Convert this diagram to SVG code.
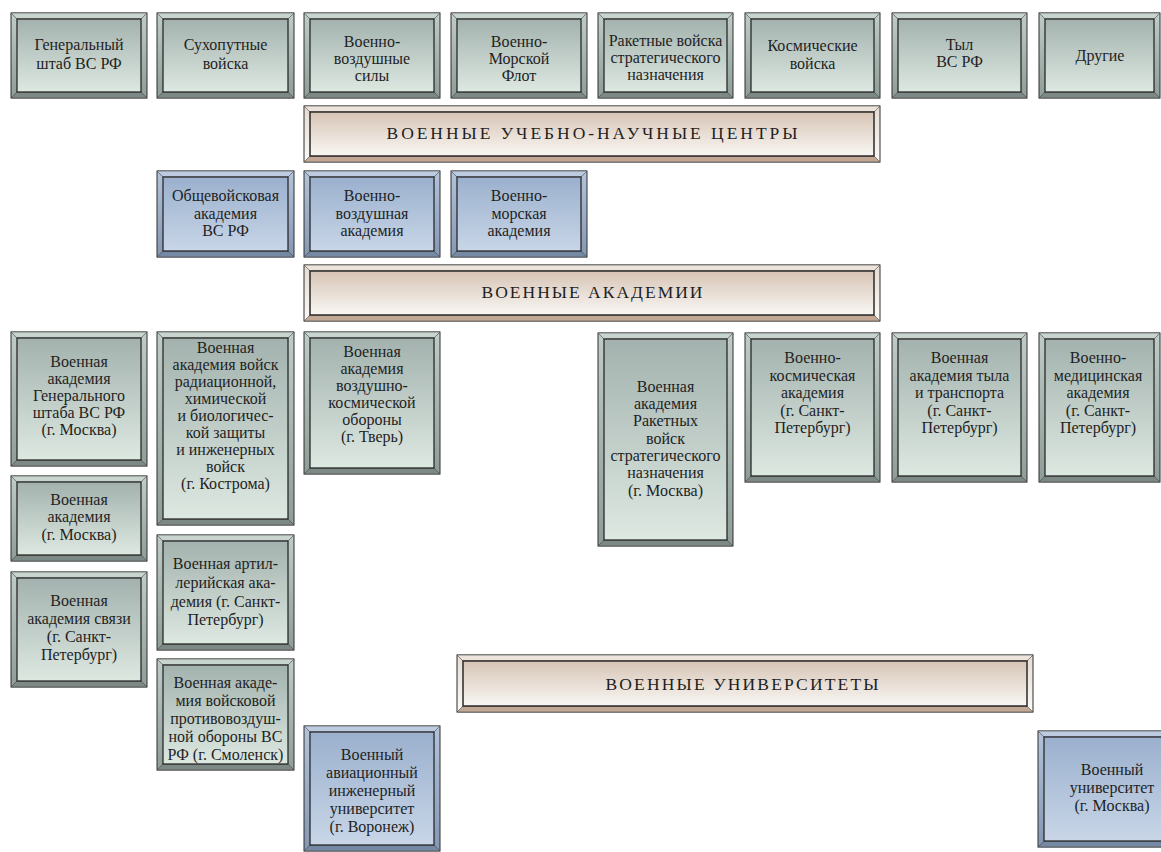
<svg xmlns="http://www.w3.org/2000/svg" width="1161" height="852" viewBox="0 0 1161 852">
<defs>
<linearGradient id="gIn" x1="0" y1="0" x2="0" y2="1"><stop offset="0" stop-color="#a3b2ae"/><stop offset="1" stop-color="#dde8e1"/></linearGradient>
<linearGradient id="gSide" x1="0" y1="0" x2="0" y2="1"><stop offset="0" stop-color="#bfccc7"/><stop offset="1" stop-color="#8e9d98"/></linearGradient>
<linearGradient id="bIn" x1="0" y1="0" x2="0" y2="1"><stop offset="0" stop-color="#9bb0ce"/><stop offset="1" stop-color="#c8d6e7"/></linearGradient>
<linearGradient id="bSide" x1="0" y1="0" x2="0" y2="1"><stop offset="0" stop-color="#b3c3da"/><stop offset="1" stop-color="#8497b3"/></linearGradient>
<linearGradient id="rIn" x1="0" y1="0" x2="0" y2="1"><stop offset="0" stop-color="#d7c4b5"/><stop offset="1" stop-color="#f9f7f4"/></linearGradient>
<linearGradient id="rSide" x1="0" y1="0" x2="0" y2="1"><stop offset="0" stop-color="#e6dbd2"/><stop offset="1" stop-color="#fbfaf8"/></linearGradient>
</defs>
<style>
.o{stroke:#2e2e2e;stroke-width:1}
.p{stroke:#444;stroke-width:0.6}
.i{stroke:#2a2a2a;stroke-width:1.3}
.g .o{fill:url(#gSide)} .g .t{fill:#c8d4ce} .g .b{fill:#7c8985} .g .i{fill:url(#gIn)}
.u .o{fill:url(#bSide)} .u .t{fill:#bccbdf} .u .b{fill:#7589a4} .u .i{fill:url(#bIn)}
.r .o{fill:url(#rSide)} .r .t{fill:#ece3da} .r .b{fill:#c2a894} .r .i{fill:url(#rIn);stroke-width:1.5}
text{font-family:"Liberation Serif","DejaVu Serif",serif;fill:#1f1f1f;text-anchor:middle}
.n{font-size:16px}
.h{font-size:17.5px}
</style>

<g id="connectors"></g>

<!-- top row -->
<g id="n-genshtab" class="g"><rect class="o" x="11" y="13" width="136" height="85"/><polygon class="p t" points="11,13 147,13 141,19 17,19"/><polygon class="p b" points="11,98 147,98 141,92 17,92"/><rect class="i" x="17" y="19" width="124" height="73"/>
<text class="n" x="79" y="50">Генеральный</text><text class="n" x="79" y="69">штаб ВС РФ</text></g>

<g id="n-sv" class="g"><rect class="o" x="157" y="13" width="137" height="85"/><polygon class="p t" points="157,13 294,13 288,19 163,19"/><polygon class="p b" points="157,98 294,98 288,92 163,92"/><rect class="i" x="163" y="19" width="125" height="73"/>
<text class="n" x="225.5" y="50">Сухопутные</text><text class="n" x="225.5" y="69">войска</text></g>

<g id="n-vvs" class="g"><rect class="o" x="304" y="13" width="136" height="85"/><polygon class="p t" points="304,13 440,13 434,19 310,19"/><polygon class="p b" points="304,98 440,98 434,92 310,92"/><rect class="i" x="310" y="19" width="124" height="73"/>
<text class="n" x="372" y="47">Военно-</text><text class="n" x="372" y="64">воздушные</text><text class="n" x="372" y="81">силы</text></g>

<g id="n-vmf" class="g"><rect class="o" x="451" y="13" width="136" height="85"/><polygon class="p t" points="451,13 587,13 581,19 457,19"/><polygon class="p b" points="451,98 587,98 581,92 457,92"/><rect class="i" x="457" y="19" width="124" height="73"/>
<text class="n" x="519" y="47">Военно-</text><text class="n" x="519" y="64">Морской</text><text class="n" x="519" y="81">Флот</text></g>

<g id="n-rvsn" class="g"><rect class="o" x="598" y="13" width="135" height="85"/><polygon class="p t" points="598,13 733,13 727,19 604,19"/><polygon class="p b" points="598,98 733,98 727,92 604,92"/><rect class="i" x="604" y="19" width="123" height="73"/>
<text class="n" x="665.5" y="46">Ракетные войска</text><text class="n" x="665.5" y="63">стратегического</text><text class="n" x="665.5" y="80">назначения</text></g>

<g id="n-kv" class="g"><rect class="o" x="745" y="13" width="135" height="85"/><polygon class="p t" points="745,13 880,13 874,19 751,19"/><polygon class="p b" points="745,98 880,98 874,92 751,92"/><rect class="i" x="751" y="19" width="123" height="73"/>
<text class="n" x="812.5" y="51">Космические</text><text class="n" x="812.5" y="69">войска</text></g>

<g id="n-tyl" class="g"><rect class="o" x="892" y="13" width="135" height="85"/><polygon class="p t" points="892,13 1027,13 1021,19 898,19"/><polygon class="p b" points="892,98 1027,98 1021,92 898,92"/><rect class="i" x="898" y="19" width="123" height="73"/>
<text class="n" x="959.5" y="50">Тыл</text><text class="n" x="959.5" y="67">ВС РФ</text></g>

<g id="n-other" class="g"><rect class="o" x="1039" y="13" width="121" height="85"/><polygon class="p t" points="1039,13 1160,13 1154,19 1045,19"/><polygon class="p b" points="1039,98 1160,98 1154,92 1045,92"/><rect class="i" x="1045" y="19" width="109" height="73"/>
<text class="n" x="1100" y="61">Другие</text></g>

<!-- band 1 -->
<g id="band-centers" class="r"><rect class="o" x="304" y="106" width="576" height="56"/><polygon class="p t" points="304,106 880,106 874,112 310,112"/><polygon class="p b" points="304,162 880,162 874,156 310,156"/><rect class="i" x="310" y="112" width="564" height="44"/>
<text class="h" x="592" y="139" textLength="411">ВОЕННЫЕ УЧЕБНО-НАУЧНЫЕ ЦЕНТРЫ</text></g>

<!-- blue row -->
<g id="n-oa" class="u"><rect class="o" x="157" y="171" width="137" height="86"/><polygon class="p t" points="157,171 294,171 288,177 163,177"/><polygon class="p b" points="157,257 294,257 288,251 163,251"/><rect class="i" x="163" y="177" width="125" height="74"/>
<text class="n" x="225.5" y="201">Общевойсковая</text><text class="n" x="225.5" y="218.5">академия</text><text class="n" x="225.5" y="236">ВС РФ</text></g>

<g id="n-vva" class="u"><rect class="o" x="304" y="171" width="136" height="86"/><polygon class="p t" points="304,171 440,171 434,177 310,177"/><polygon class="p b" points="304,257 440,257 434,251 310,251"/><rect class="i" x="310" y="177" width="124" height="74"/>
<text class="n" x="372" y="201">Военно-</text><text class="n" x="372" y="218.5">воздушная</text><text class="n" x="372" y="236">академия</text></g>

<g id="n-vma" class="u"><rect class="o" x="451" y="171" width="136" height="86"/><polygon class="p t" points="451,171 587,171 581,177 457,177"/><polygon class="p b" points="451,257 587,257 581,251 457,251"/><rect class="i" x="457" y="177" width="124" height="74"/>
<text class="n" x="519" y="201">Военно-</text><text class="n" x="519" y="218.5">морская</text><text class="n" x="519" y="236">академия</text></g>

<!-- band 2 -->
<g id="band-academies" class="r"><rect class="o" x="304" y="265" width="576" height="56"/><polygon class="p t" points="304,265 880,265 874,271 310,271"/><polygon class="p b" points="304,321 880,321 874,315 310,315"/><rect class="i" x="310" y="271" width="564" height="44"/>
<text class="h" x="592" y="298" textLength="221">ВОЕННЫЕ АКАДЕМИИ</text></g>

<!-- academies -->
<g id="a-gsh" class="g"><rect class="o" x="11" y="332" width="136" height="134"/><polygon class="p t" points="11,332 147,332 141,338 17,338"/><polygon class="p b" points="11,466 147,466 141,460 17,460"/><rect class="i" x="17" y="338" width="124" height="122"/>
<text class="n" x="79" y="367">Военная</text><text class="n" x="79" y="384">академия</text><text class="n" x="79" y="401">Генерального</text><text class="n" x="79" y="418">штаба ВС РФ</text><text class="n" x="79" y="435">(г. Москва)</text></g>

<g id="a-rhbz" class="g"><rect class="o" x="157" y="332" width="137" height="193"/><polygon class="p t" points="157,332 294,332 288,338 163,338"/><polygon class="p b" points="157,525 294,525 288,519 163,519"/><rect class="i" x="163" y="338" width="125" height="181"/>
<text class="n" x="225.5" y="352.5">Военная</text><text class="n" x="225.5" y="369.5">академия войск</text><text class="n" x="225.5" y="386.5">радиационной,</text><text class="n" x="225.5" y="403.5">химической</text><text class="n" x="225.5" y="420.5">и биологичес-</text><text class="n" x="225.5" y="437.5">кой защиты</text><text class="n" x="225.5" y="454.5">и инженерных</text><text class="n" x="225.5" y="471.5">войск</text><text class="n" x="225.5" y="488.5">(г. Кострома)</text></g>

<g id="a-vko" class="g"><rect class="o" x="304" y="332" width="136" height="142"/><polygon class="p t" points="304,332 440,332 434,338 310,338"/><polygon class="p b" points="304,474 440,474 434,468 310,468"/><rect class="i" x="310" y="338" width="124" height="130"/>
<text class="n" x="372" y="357">Военная</text><text class="n" x="372" y="374">академия</text><text class="n" x="372" y="391">воздушно-</text><text class="n" x="372" y="408">космической</text><text class="n" x="372" y="425">обороны</text><text class="n" x="372" y="442">(г. Тверь)</text></g>

<g id="a-rvsn" class="g"><rect class="o" x="598" y="333" width="135" height="213"/><polygon class="p t" points="598,333 733,333 727,339 604,339"/><polygon class="p b" points="598,546 733,546 727,540 604,540"/><rect class="i" x="604" y="339" width="123" height="201"/>
<text class="n" x="665.5" y="392">Военная</text><text class="n" x="665.5" y="409">академия</text><text class="n" x="665.5" y="426">Ракетных</text><text class="n" x="665.5" y="443.5">войск</text><text class="n" x="665.5" y="461">стратегического</text><text class="n" x="665.5" y="478">назначения</text><text class="n" x="665.5" y="495.5">(г. Москва)</text></g>

<g id="a-vka" class="g"><rect class="o" x="745" y="333" width="135" height="149"/><polygon class="p t" points="745,333 880,333 874,339 751,339"/><polygon class="p b" points="745,482 880,482 874,476 751,476"/><rect class="i" x="751" y="339" width="123" height="137"/>
<text class="n" x="812.5" y="363">Военно-</text><text class="n" x="812.5" y="380.5">космическая</text><text class="n" x="812.5" y="398">академия</text><text class="n" x="812.5" y="415.5">(г. Санкт-</text><text class="n" x="812.5" y="433">Петербург)</text></g>

<g id="a-tyl" class="g"><rect class="o" x="892" y="333" width="135" height="149"/><polygon class="p t" points="892,333 1027,333 1021,339 898,339"/><polygon class="p b" points="892,482 1027,482 1021,476 898,476"/><rect class="i" x="898" y="339" width="123" height="137"/>
<text class="n" x="959.5" y="363">Военная</text><text class="n" x="959.5" y="380.5">академия тыла</text><text class="n" x="959.5" y="398">и транспорта</text><text class="n" x="959.5" y="415.5">(г. Санкт-</text><text class="n" x="959.5" y="433">Петербург)</text></g>

<g id="a-med" class="g"><rect class="o" x="1039" y="333" width="121" height="149"/><polygon class="p t" points="1039,333 1160,333 1154,339 1045,339"/><polygon class="p b" points="1039,482 1160,482 1154,476 1045,476"/><rect class="i" x="1045" y="339" width="109" height="137"/>
<text class="n" x="1098" y="363">Военно-</text><text class="n" x="1098" y="380.5">медицинская</text><text class="n" x="1098" y="398">академия</text><text class="n" x="1098" y="415.5">(г. Санкт-</text><text class="n" x="1098" y="433">Петербург)</text></g>

<g id="a-msk" class="g"><rect class="o" x="11" y="476" width="136" height="85"/><polygon class="p t" points="11,476 147,476 141,482 17,482"/><polygon class="p b" points="11,561 147,561 141,555 17,555"/><rect class="i" x="17" y="482" width="124" height="73"/>
<text class="n" x="79" y="504.5">Военная</text><text class="n" x="79" y="522">академия</text><text class="n" x="79" y="539.5">(г. Москва)</text></g>

<g id="a-svyaz" class="g"><rect class="o" x="11" y="572" width="136" height="115"/><polygon class="p t" points="11,572 147,572 141,578 17,578"/><polygon class="p b" points="11,687 147,687 141,681 17,681"/><rect class="i" x="17" y="578" width="124" height="103"/>
<text class="n" x="79" y="606">Военная</text><text class="n" x="79" y="624">академия связи</text><text class="n" x="79" y="642">(г. Санкт-</text><text class="n" x="79" y="660">Петербург)</text></g>

<g id="a-art" class="g"><rect class="o" x="157" y="535" width="137" height="115"/><polygon class="p t" points="157,535 294,535 288,541 163,541"/><polygon class="p b" points="157,650 294,650 288,644 163,644"/><rect class="i" x="163" y="541" width="125" height="103"/>
<text class="n" x="225.5" y="569">Военная артил-</text><text class="n" x="225.5" y="588">лерийская ака-</text><text class="n" x="225.5" y="607">демия (г. Санкт-</text><text class="n" x="225.5" y="625">Петербург)</text></g>

<g id="a-pvo" class="g"><rect class="o" x="157" y="659" width="137" height="111"/><polygon class="p t" points="157,659 294,659 288,665 163,665"/><polygon class="p b" points="157,770 294,770 288,764 163,764"/><rect class="i" x="163" y="665" width="125" height="99"/>
<text class="n" x="225.5" y="688">Военная акаде-</text><text class="n" x="225.5" y="706">мия войсковой</text><text class="n" x="225.5" y="724">противовоздуш-</text><text class="n" x="225.5" y="742">ной обороны ВС</text><text class="n" x="225.5" y="760">РФ (г. Смоленск)</text></g>

<!-- band 3 -->
<g id="band-universities" class="r"><rect class="o" x="457" y="655" width="576" height="57"/><polygon class="p t" points="457,655 1033,655 1027,661 463,661"/><polygon class="p b" points="457,712 1033,712 1027,706 463,706"/><rect class="i" x="463" y="661" width="564" height="45"/>
<text class="h" x="742" y="690" textLength="273">ВОЕННЫЕ УНИВЕРСИТЕТЫ</text></g>

<g id="u-vrn" class="u"><rect class="o" x="304" y="726" width="136" height="125"/><polygon class="p t" points="304,726 440,726 434,732 310,732"/><polygon class="p b" points="304,851 440,851 434,845 310,845"/><rect class="i" x="310" y="732" width="124" height="113"/>
<text class="n" x="372" y="760">Военный</text><text class="n" x="372" y="778">авиационный</text><text class="n" x="372" y="796">инженерный</text><text class="n" x="372" y="814">университет</text><text class="n" x="372" y="832">(г. Воронеж)</text></g>

<g id="u-msk" class="u"><rect class="o" x="1038" y="731" width="150" height="116"/><polygon class="p t" points="1038,731 1188,731 1182,737 1044,737"/><polygon class="p b" points="1038,847 1188,847 1182,841 1044,841"/><rect class="i" x="1044" y="737" width="138" height="104"/>
<text class="n" x="1112" y="775">Военный</text><text class="n" x="1112" y="793">университет</text><text class="n" x="1112" y="811">(г. Москва)</text></g>
</svg>
